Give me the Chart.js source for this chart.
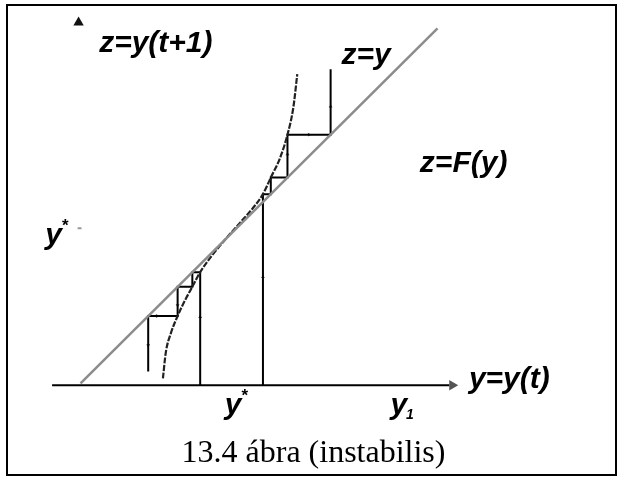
<!DOCTYPE html>
<html>
<head>
<meta charset="utf-8">
<script src="https://cdn.jsdelivr.net/npm/chart.js@4/dist/chart.umd.min.js"></script>
<style>
  body { margin: 0; background: #fff; }
  #wrap { position: relative; width: 622px; height: 477px; }
  #frame {
    position: absolute; left: 6px; top: 4px;
    width: 607px; height: 468px;
    border: 2px solid #000;
  }
  #chart { position: absolute; left: 0; top: 0; }
  #caption {
    position: absolute; left: 6px; top: 436px; width: 615px;
    text-align: center;
    font: 32px "Liberation Serif", "Times New Roman", serif;
    line-height: 31px;
    color: #000;
  }
</style>
</head>
<body>
<div id="wrap">
  <div id="frame"></div>
  <canvas id="chart" width="622" height="477"></canvas>
  <div id="caption">13.4 ábra (instabilis)</div>
</div>
<script>
// Map z = F(y), sampled along the curve (steep at both ends)
const curveY = [8.6, 8.9, 9.4, 10.1, 10.9, 11.6, 12.4, 13.6, 15.0, 16.5, 17.8, 18.8, 19.6, 20.5, 21.3, 21.9, 22.3];
const curveZ = [0.7, 3.4, 5.3, 7.1, 8.8, 10.1, 11.6, 13.3, 15.0, 16.7, 18.2, 19.6, 21.3, 23.2, 25.7, 28.5, 31.9];

// 45 degree line z = y
const diagonalY = [0.2, 36.6];

// Cobweb starting right of the fixed point (runs away upward)
const upperWebY = [18.8, 18.8, 19.6, 19.6, 21.3, 21.3, 25.7, 25.7];
const upperWebZ = [0, 19.6, 19.6, 21.3, 21.3, 25.7, 25.7, 32.4];

// Cobweb starting left of the fixed point (runs away downward)
const lowerWebY = [12.4, 12.4, 11.6, 11.6, 10.1, 10.1, 7.1, 7.1];
const lowerWebZ = [0, 11.6, 11.6, 10.1, 10.1, 7.1, 7.1, 1.4];

// Small direction marks on the cobweb segments (degrees, 0 = up)
const markY = [18.8, 21.3, 23.5, 25.7, 12.4, 10.1, 7.9, 7.1];
const markZ = [11.1, 23.7, 25.7, 28.6, 7.0, 8.2, 7.1, 4.1];
const markDir = [0, 0, 90, 0, 0, 180, 270, 180];

// Horizontal axis extent and the fixed point value
const axisY = [-2.7, 37.8];
const yStar = 16.1;

const toPoints = (xs, zs) => xs.map((x, i) => ({ x, y: zs[i] }));

const LABEL_FONT = 'bold italic 30px "Liberation Sans", Arial, sans-serif';
const SUP_FONT = 'bold 17px "Liberation Sans", Arial, sans-serif';
const SUB_FONT = 'bold italic 14px "Liberation Sans", Arial, sans-serif';

// text labels, anchored at left/baseline in data units
const labels = [
  { text: 'z=y(t+1)', x: 2.1, z: 34.2 },
  { text: 'z=y', x: 26.8, z: 32.9 },
  { text: 'z=F(y)', x: 34.8, z: 21.9 },
  { text: 'y=y(t)', x: 39.8, z: -0.3 },
  { text: 'y', sup: '*', x: -3.4, z: 14.5 },
  { text: 'y', sup: '*', x: 14.9, z: -3.0 },
  { text: 'y', sub: '1', x: 31.8, z: -3.0 }
];

const labelPlugin = {
  id: 'labels',
  afterDatasetsDraw(chart) {
    const { ctx, scales } = chart;
    ctx.save();
    ctx.fillStyle = '#000';
    ctx.textBaseline = 'alphabetic';
    ctx.textAlign = 'left';
    labels.forEach(l => {
      const px = scales.x.getPixelForValue(l.x);
      const py = scales.y.getPixelForValue(l.z);
      ctx.font = LABEL_FONT;
      ctx.fillText(l.text, px, py);
      const w = ctx.measureText(l.text).width;
      if (l.sup) {
        ctx.font = SUP_FONT;
        ctx.fillText(l.sup, px + w, py - 13);
      }
      if (l.sub) {
        ctx.font = SUB_FONT;
        ctx.fillText(l.sub, px + w - 1, py + 5);
      }
    });
    ctx.restore();
  }
};

const lineStyle = {
  showLine: true,
  pointRadius: 0,
  fill: false,
  tension: 0
};

new Chart(document.getElementById('chart'), {
  type: 'scatter',
  data: {
    datasets: [
      {
        ...lineStyle,
        data: diagonalY.map(v => ({ x: v, y: v })),
        borderColor: '#8c8c8c',
        borderWidth: 2.5
      },
      {
        ...lineStyle,
        data: toPoints(curveY, curveZ),
        borderColor: '#222',
        borderWidth: 2.2,
        borderDash: [6, 1.5],
        cubicInterpolationMode: 'monotone'
      },
      {
        ...lineStyle,
        data: toPoints(upperWebY, upperWebZ),
        borderColor: '#000',
        borderWidth: 2
      },
      {
        ...lineStyle,
        data: toPoints(lowerWebY, lowerWebZ),
        borderColor: '#000',
        borderWidth: 2
      },
      {
        ...lineStyle,
        data: axisY.map(v => ({ x: v, y: 0 })),
        borderColor: '#000',
        borderWidth: 2
      },
      {
        // tick for y* on the vertical axis
        ...lineStyle,
        data: [{ x: -0.1, y: yStar }, { x: 0.3, y: yStar }],
        borderColor: '#999',
        borderWidth: 2
      },
      {
        data: toPoints(markY, markZ),
        pointStyle: 'triangle',
        pointRadius: 2.2,
        pointRotation: markDir,
        pointBackgroundColor: '#444',
        pointBorderColor: '#444',
        pointBorderWidth: 0
      },
      {
        // arrow heads of the two axes
        data: [{ x: 38.1, y: 0 }, { x: 0, y: 37.2 }],
        pointStyle: 'triangle',
        pointRadius: 6,
        pointRotation: [90, 0],
        pointBackgroundColor: ['#555', '#111'],
        pointBorderColor: ['#555', '#111'],
        pointBorderWidth: 0
      }
    ]
  },
  options: {
    responsive: false,
    animation: false,
    events: [],
    layout: { padding: 0 },
    plugins: {
      legend: { display: false },
      tooltip: { enabled: false }
    },
    scales: {
      x: { type: 'linear', display: false, min: -7.4, max: 54.8 },
      y: { type: 'linear', display: false, min: -8.8, max: 38.9 }
    }
  },
  plugins: [labelPlugin]
});
</script>
</body>
</html>
